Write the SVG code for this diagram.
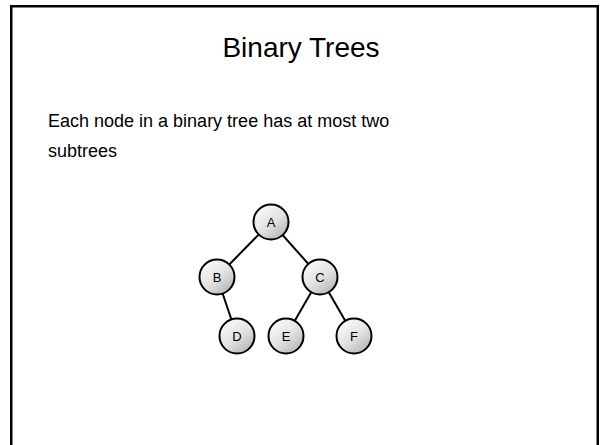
<svg xmlns="http://www.w3.org/2000/svg" width="602" height="445" viewBox="0 0 602 445">
  <style>
    .title { font-family: "Liberation Sans", Arial, sans-serif; font-size: 28px; fill: #000; }
    .body { font-family: "Liberation Sans", Arial, sans-serif; font-size: 18px; fill: #000; }
    .node circle { fill: url(#nodeFill); stroke: #000; stroke-width: 2; }
    .node text { font-family: "Liberation Sans", Arial, sans-serif; font-size: 13px; fill: #000; text-anchor: middle; }
    .edge { stroke: #000; stroke-width: 2; }
  </style>
  <defs>
    <linearGradient id="nodeFill" x1="0.2" y1="0.1" x2="0.85" y2="0.95">
      <stop offset="0" stop-color="#f8f8f8"/>
      <stop offset="0.5" stop-color="#e2e2e2"/>
      <stop offset="1" stop-color="#b4b4b4"/>
    </linearGradient>
  </defs>
  <rect width="602" height="445" fill="#fff"/>
  <!-- slide frame, open at the bottom -->
  <path d="M11.25 450 V6.25 H597.75 V450" fill="none" stroke="#000" stroke-width="2.5"/>
  <text class="title" x="301" y="57" text-anchor="middle">Binary Trees</text>
  <text class="body" x="48" y="127">Each node in a binary tree has at most two</text>
  <text class="body" x="48" y="157">subtrees</text>

  <g id="connectors">
    <line class="edge" x1="271" y1="222" x2="217" y2="277"/>
    <line class="edge" x1="271" y1="222" x2="320" y2="277"/>
    <line class="edge" x1="217" y1="277" x2="237" y2="336"/>
    <line class="edge" x1="320" y1="277" x2="286" y2="336"/>
    <line class="edge" x1="320" y1="277" x2="354" y2="336"/>
  </g>

  <g id="node-A" class="node"><circle cx="271" cy="222" r="17.5"/><text x="271" y="226.5">A</text></g>
  <g id="node-B" class="node"><circle cx="217" cy="277" r="17.5"/><text x="217" y="281.5">B</text></g>
  <g id="node-C" class="node"><circle cx="320" cy="277" r="17.5"/><text x="320" y="281.5">C</text></g>
  <g id="node-D" class="node"><circle cx="237" cy="336" r="17.5"/><text x="237" y="340.5">D</text></g>
  <g id="node-E" class="node"><circle cx="286" cy="336" r="17.5"/><text x="286" y="340.5">E</text></g>
  <g id="node-F" class="node"><circle cx="354" cy="336" r="17.5"/><text x="354" y="340.5">F</text></g>
</svg>
